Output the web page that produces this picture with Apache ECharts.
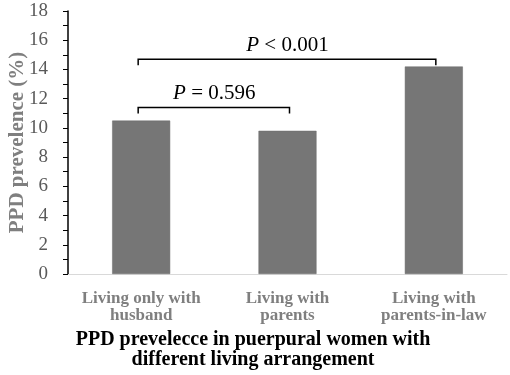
<!DOCTYPE html>
<html>
<head>
<meta charset="utf-8">
<script src="https://cdn.jsdelivr.net/npm/echarts@6/dist/echarts.min.js"></script>
<style>
html, body { margin: 0; padding: 0; background: #fff; }
#container { width: 510px; height: 375px; }
</style>
</head>
<body>
<div id="container"></div>
<script>
// 数据
const categories = ['Living only with\nhusband', 'Living with\nparents', 'Living with\nparents-in-law'];
const prevalence = [10.5, 9.8, 14.2];
const yTicks = [0, 2, 4, 6, 8, 10, 12, 14, 16, 18];
// 显著性括号: 起始类目, 结束类目, 高度, p值
const bracketFrom = [0, 0];
const bracketTo = [1, 2];
const bracketY = [11.4, 14.7];
const bracketText = ['= 0.596', '< 0.001'];

let dom = document.getElementById('container');
let myChart = echarts.init(dom);

let bracketData = bracketFrom.map(function (f, i) {
    return [f, bracketTo[i], bracketY[i], bracketText[i]];
});

let option = {
    animation: false,
    textStyle: { fontFamily: 'Liberation Serif' },
    title: {
        text: 'PPD prevelecce in puerpural women with\ndifferent living arrangement',
        left: 248,
        textAlign: 'center',
        top: 325,
        textStyle: {
            fontFamily: 'Liberation Serif',
            fontSize: 20,
            fontWeight: 'bold',
            color: '#000',
            lineHeight: 20
        }
    },
    grid: { left: 68, right: 3, top: 11, bottom: 101, outerBoundsMode: 'none' },
    xAxis: {
        type: 'category',
        data: categories,
        axisLine: { lineStyle: { color: '#d9d9d9', width: 1 } },
        axisTick: { show: false },
        axisLabel: {
            interval: 0,
            fontFamily: 'Liberation Serif',
            fontSize: 17,
            fontWeight: 'bold',
            color: '#7f7f7f',
            lineHeight: 17,
            margin: 16
        }
    },
    yAxis: {
        type: 'value',
        min: yTicks[0],
        max: yTicks[yTicks.length - 1],
        interval: 2,
        name: 'PPD prevelence (%)',
        nameLocation: 'middle',
        nameGap: 40,
        nameMoveOverlap: false,
        nameTextStyle: {
            fontFamily: 'Liberation Serif',
            fontSize: 21,
            fontWeight: 'bold',
            color: '#7f7f7f'
        },
        axisLine: { show: true, lineStyle: { color: '#000', width: 1.5 } },
        axisTick: { show: true, length: 5, lineStyle: { color: '#000' } },
        minorTick: { show: true, splitNumber: 2, length: 5, lineStyle: { color: '#000' } },
        splitLine: { show: false },
        axisLabel: {
            fontFamily: 'Liberation Serif',
            fontSize: 19,
            color: '#595959',
            margin: 20
        }
    },
    series: [{
        type: 'bar',
        data: prevalence,
        barWidth: 58,
        itemStyle: { color: '#767676', borderColor: '#6a6a6a', borderWidth: 0.5 }
    }, {
        type: 'custom',
        data: bracketData,
        z: 10,
        renderItem: function (params, api) {
            let p1 = api.coord([api.value(0), api.value(2)]);
            let p2 = api.coord([api.value(1), api.value(2)]);
            let y = p1[1];
            return {
                type: 'group',
                children: [{
                    type: 'polyline',
                    shape: { points: [[p1[0] - 3, y + 6], [p1[0] - 3, y], [p2[0] + 2, y], [p2[0] + 2, y + 6]] },
                    style: { stroke: '#000', lineWidth: 1.5, fill: null }
                }, {
                    type: 'text',
                    x: (p1[0] + p2[0]) / 2,
                    y: y - 3,
                    style: {
                        text: '{i|P} ' + bracketData[params.dataIndex][3],
                        textAlign: 'center',
                        textVerticalAlign: 'bottom',
                        fontFamily: 'Liberation Serif',
                        fontSize: 21,
                        fill: '#000',
                        rich: {
                            i: { fontStyle: 'italic', fontFamily: 'Liberation Serif', fontSize: 21 }
                        }
                    }
                }]
            };
        }
    }]
};

if (option && typeof option === "object") {
    myChart.setOption(option, true);
}
</script>
</body>
</html>
